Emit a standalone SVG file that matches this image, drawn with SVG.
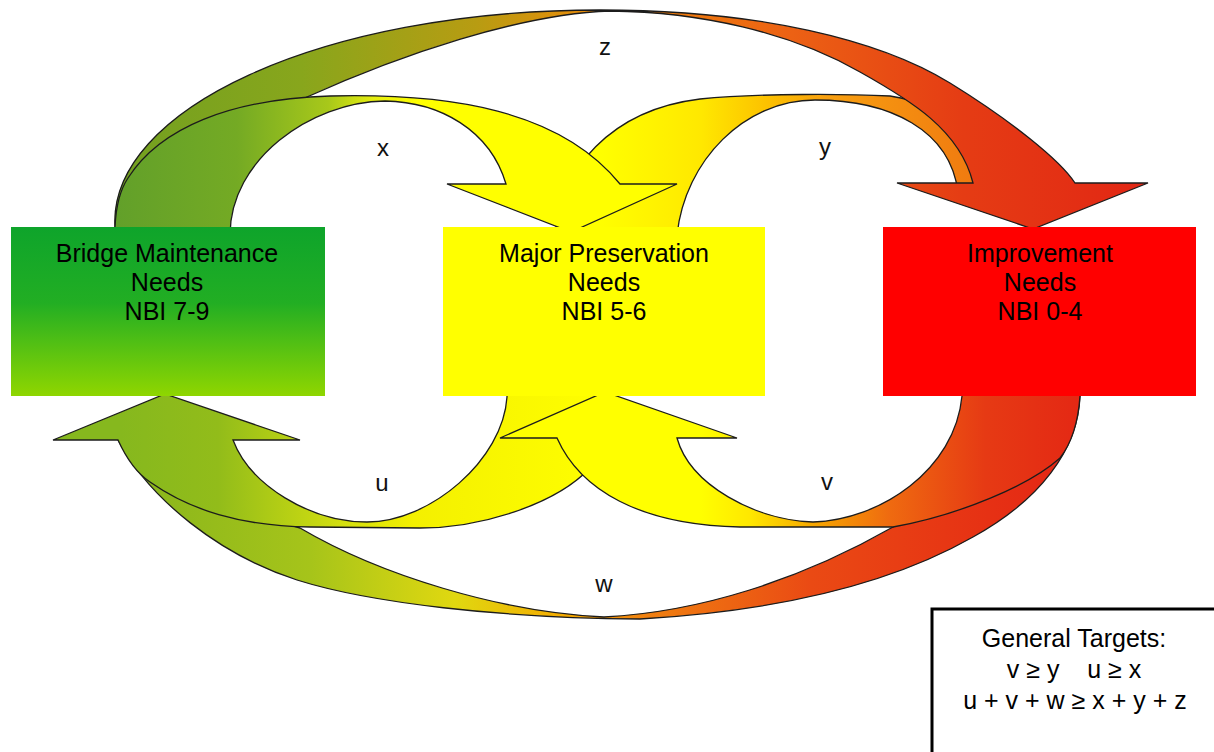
<svg xmlns="http://www.w3.org/2000/svg" width="1214" height="752" viewBox="0 0 1214 752">
<defs>
<style>
.band{stroke:#1c1c1c;stroke-width:1.3;stroke-linejoin:miter}
.t{font-family:"Liberation Sans",Arial,sans-serif;font-size:25px;fill:#000;text-anchor:middle}
.lbl{font-family:"Liberation Sans",Arial,sans-serif;font-size:24px;fill:#111;text-anchor:middle}
</style>
<linearGradient id="gz" gradientUnits="userSpaceOnUse" x1="115" y1="0" x2="1150" y2="0">
<stop offset="0" stop-color="#72a020"/><stop offset="0.18" stop-color="#88a61c"/><stop offset="0.35" stop-color="#b89c12"/><stop offset="0.47" stop-color="#ee8a08"/><stop offset="0.65" stop-color="#ec6214"/><stop offset="0.82" stop-color="#e53c14"/><stop offset="1" stop-color="#e22614"/>
</linearGradient>
<linearGradient id="gx" gradientUnits="userSpaceOnUse" x1="115" y1="0" x2="420" y2="0">
<stop offset="0" stop-color="#62a02a"/><stop offset="0.4" stop-color="#74aa24"/><stop offset="0.7" stop-color="#a8c81a"/><stop offset="0.85" stop-color="#e6ee10"/><stop offset="1" stop-color="#ffff00"/>
</linearGradient>
<linearGradient id="gy" gradientUnits="userSpaceOnUse" x1="600" y1="0" x2="975" y2="0">
<stop offset="0" stop-color="#ffff00"/><stop offset="0.27" stop-color="#ffe800"/><stop offset="0.45" stop-color="#fcc000"/><stop offset="0.6" stop-color="#f8a010"/><stop offset="1" stop-color="#f07a10"/>
</linearGradient>
<linearGradient id="gu" gradientUnits="userSpaceOnUse" x1="120" y1="0" x2="610" y2="0">
<stop offset="0" stop-color="#86b81e"/><stop offset="0.2" stop-color="#92bc1a"/><stop offset="0.45" stop-color="#d2de10"/><stop offset="0.6" stop-color="#f4f000"/><stop offset="1" stop-color="#ffff00"/>
</linearGradient>
<linearGradient id="gv" gradientUnits="userSpaceOnUse" x1="700" y1="0" x2="1080" y2="0">
<stop offset="0" stop-color="#ffff00"/><stop offset="0.13" stop-color="#ffe800"/><stop offset="0.3" stop-color="#f6a600"/><stop offset="0.5" stop-color="#ef6a10"/><stop offset="0.75" stop-color="#e63a14"/><stop offset="1" stop-color="#e42814"/>
</linearGradient>
<linearGradient id="gw" gradientUnits="userSpaceOnUse" x1="118" y1="0" x2="1080" y2="0">
<stop offset="0" stop-color="#86b41c"/><stop offset="0.2" stop-color="#a6c41a"/><stop offset="0.35" stop-color="#e0d810"/><stop offset="0.47" stop-color="#f6a800"/><stop offset="0.55" stop-color="#f08010"/><stop offset="0.72" stop-color="#ea4a14"/><stop offset="1" stop-color="#e42414"/>
</linearGradient>
<linearGradient id="ggreen" gradientUnits="userSpaceOnUse" x1="0" y1="227" x2="0" y2="396">
<stop offset="0" stop-color="#0ea42b"/><stop offset="0.45" stop-color="#22ae23"/><stop offset="0.75" stop-color="#5ec410"/><stop offset="1" stop-color="#8fd600"/>
</linearGradient>
</defs>
<rect width="1214" height="752" fill="#fff"/>
<g id="connectors">
<path id="arrow-y" class="band" fill="url(#gy)" d="M555,235 C560,170 610,110 700,99 C760,93 850,94 890,96 C950,105 985,140 990,192 L958,192 C950,130 890,100 815,100 C745,100 685,160 677,235 Z"/>
<path id="arrow-z" class="band" fill="url(#gz)" d="M115,235 L115,227 C108,110 320,10 600,10 C760,10 880,40 950,83 C1010,120 1060,160 1075,183 L1148,183 L1033,229 L897,183 L973,183 C960,130 910,100 860,72 C790,32 700,12 610,11 C520,14 400,55 307,97 C260,120 215,170 205,235 Z"/>
<path id="arrow-x" class="band" fill="url(#gx)" d="M115,235 L115,227 C116,205 120,190 128,178 C160,128 230,99 330,96 C450,93 560,110 620,184 L677,184 L571,232 L447,184 L506,184 C490,130 440,102 385,101 C310,102 230,160 230,235 Z"/>
<path id="arrow-w" class="band" fill="url(#gw)" d="M1080,390 L1080,396 C1078,450 1040,500 973,537 C880,590 760,612 640,619 C500,618 370,603 297,580 C220,555 150,500 118,440 L190,440 C200,480 250,515 300,528 C380,575 500,612 604,617 C700,612 800,580 893,527 C960,495 1020,450 1040,390 Z"/>
<path id="arrow-u" class="band" fill="url(#gu)" d="M507,390 L507,397 C503,460 430,522 367,522 C310,522 250,485 233,440 L300,440 L165,394 L53,440 L118,440 C128,462 138,474 150,482 C190,510 240,526 310,527 L420,528 C480,528 555,505 590,468 C605,445 612,420 615,390 Z"/>
<path id="arrow-v" class="band" fill="url(#gv)" d="M962,390 L962,396 C955,470 880,520 813,522 C755,520 690,485 677,438 L737,438 L605,392 L500,438 L557,438 C580,490 640,525 740,527 L893,527 C960,515 1030,485 1060,458 C1071,444 1078,425 1080,396 L1080,390 Z"/>
<text class="lbl" x="605" y="55">z</text>
<text class="lbl" x="383" y="156">x</text>
<text class="lbl" x="825" y="155">y</text>
<text class="lbl" x="382" y="491">u</text>
<text class="lbl" x="827" y="490">v</text>
<text class="lbl" x="604" y="592">w</text>
</g>
<g id="node-maintenance">
<rect x="11" y="227" width="314" height="169" fill="url(#ggreen)"/>
<text class="t" x="167" y="262">Bridge Maintenance</text>
<text class="t" x="167" y="291">Needs</text>
<text class="t" x="167" y="320">NBI 7-9</text>
</g>
<g id="node-preservation">
<rect x="443" y="227" width="322" height="169" fill="#ffff00"/>
<text class="t" x="604" y="262">Major Preservation</text>
<text class="t" x="604" y="291">Needs</text>
<text class="t" x="604" y="320">NBI 5-6</text>
</g>
<g id="node-improvement">
<rect x="883" y="227" width="313" height="169" fill="#ff0000"/>
<text class="t" x="1040" y="262">Improvement</text>
<text class="t" x="1040" y="291">Needs</text>
<text class="t" x="1040" y="320">NBI 0-4</text>
</g>
<g id="node-targets">
<rect x="932" y="609" width="300" height="200" fill="#fff" stroke="#000" stroke-width="3"/>
<text class="t" x="1074" y="647">General Targets:</text>
<text class="t" x="1074" y="678" xml:space="preserve">v ≥ y    u ≥ x</text>
<text class="t" x="1075" y="709">u + v + w ≥ x + y + z</text>
</g>
</svg>
